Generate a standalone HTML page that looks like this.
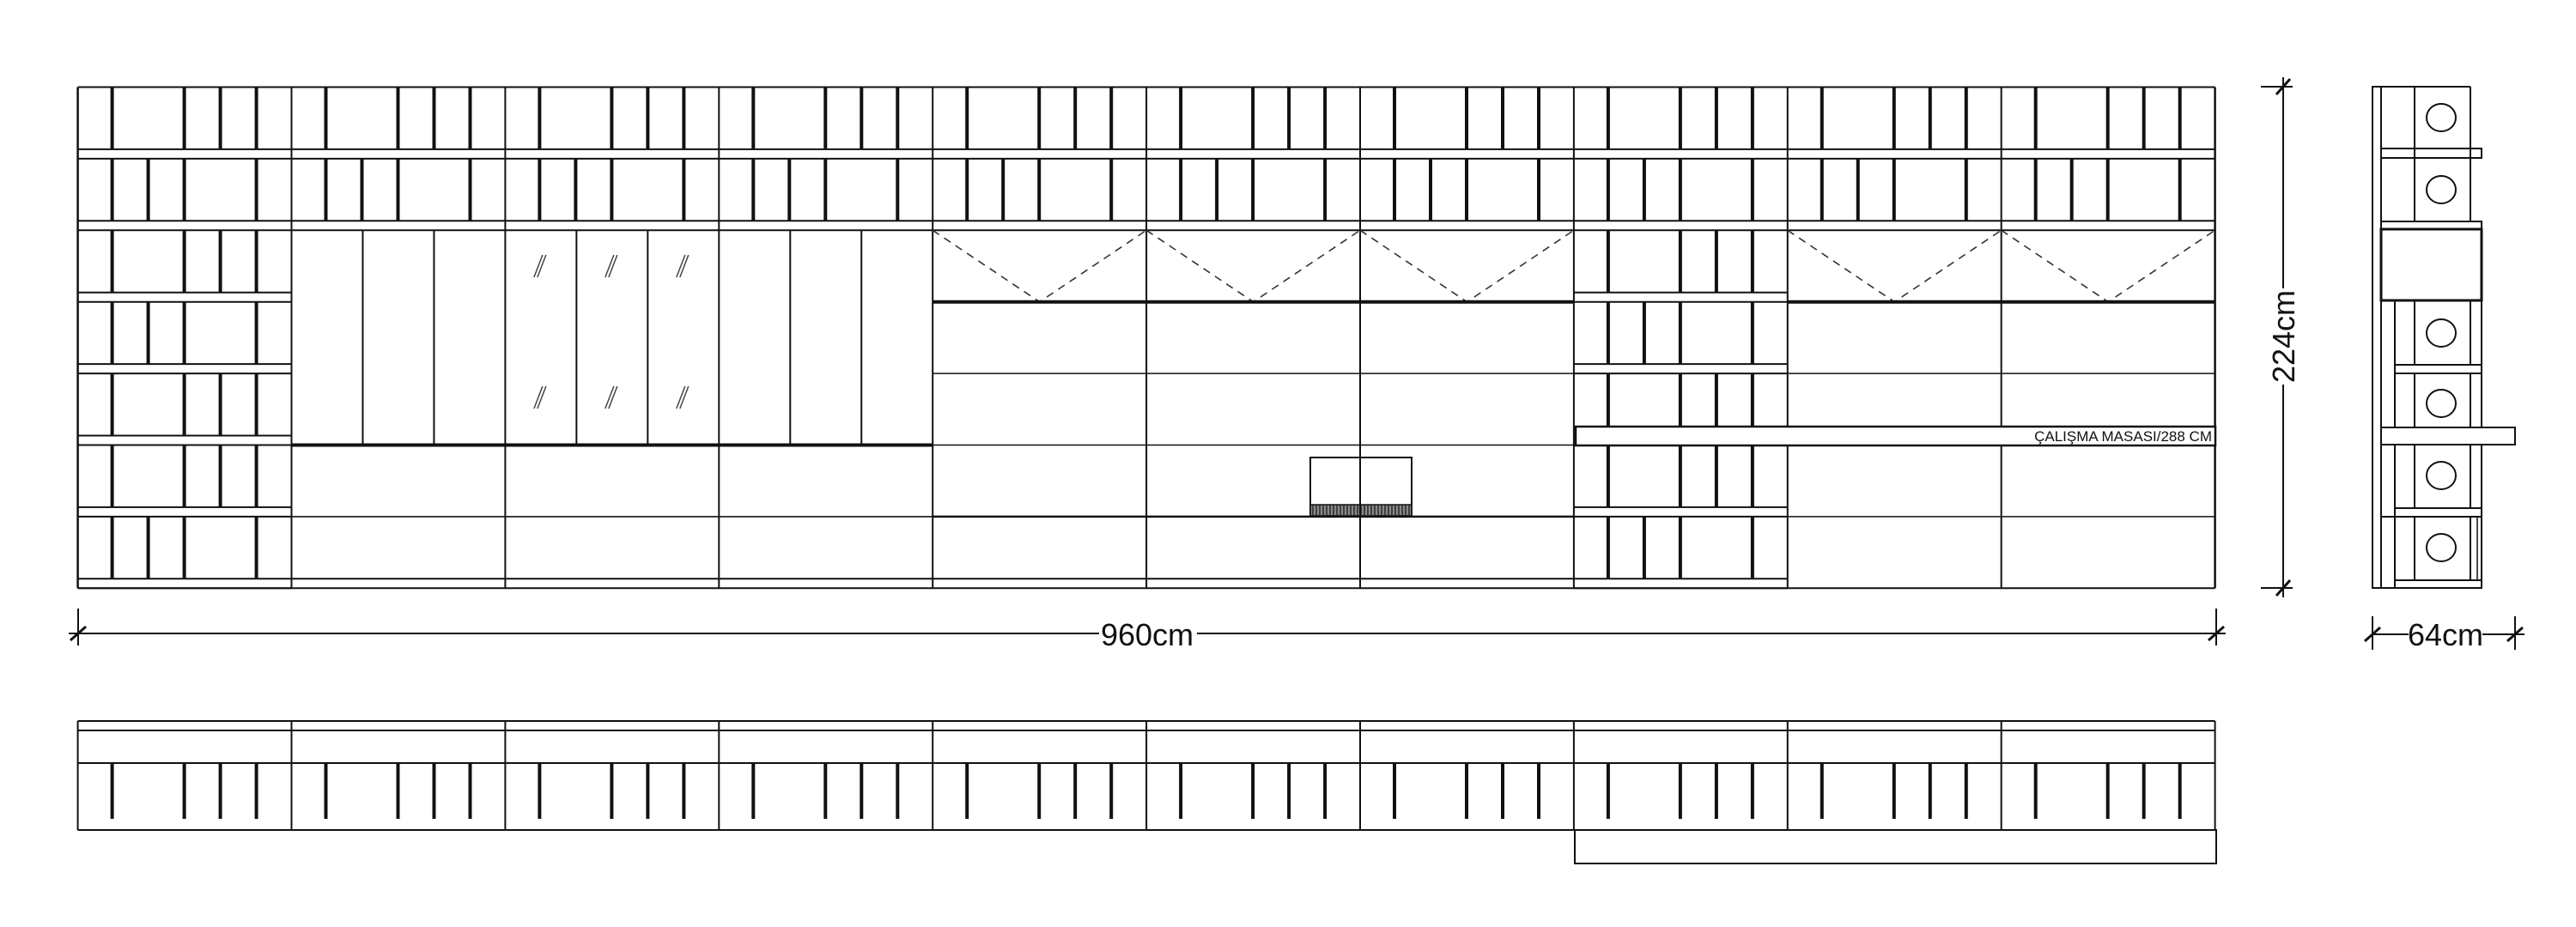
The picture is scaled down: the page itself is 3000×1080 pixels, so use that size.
<!DOCTYPE html>
<html><head><meta charset="utf-8"><style>
html,body{margin:0;padding:0;background:#fff;}
svg{display:block;}
text{font-family:"Liberation Sans",sans-serif;fill:#111;}
</style></head><body>
<svg id="s" width="3000" height="1080" viewBox="0 0 3000 1080" xmlns="http://www.w3.org/2000/svg">
<g id="g" stroke="#111" fill="none" stroke-width="2"></g>
<rect x="1280" y="722" width="114" height="36" fill="#fff"/>
<text x="1336" y="752" font-size="36" text-anchor="middle">960cm</text>
<rect x="2641" y="336" width="36" height="112" fill="#fff"/>
<text x="0" y="0" font-size="36" text-anchor="middle" transform="translate(2672,392) rotate(-90)">224cm</text>
<rect x="2805" y="722" width="86" height="36" fill="#fff"/>
<text x="2848" y="752" font-size="36" text-anchor="middle">64cm</text>
<text x="2576" y="514" font-size="17" text-anchor="end" font-family="Liberation Sans, sans-serif">ÇALIŞMA MASASI/288 CM</text>
</svg>
<script>
var g=document.getElementById('g'),NS='http://www.w3.org/2000/svg';
function el(t,a){var e=document.createElementNS(NS,t);for(var k in a)e.setAttribute(k,a[k]);g.appendChild(e);return e;}
function ln(x1,y1,x2,y2,w,extra){var a={x1:x1,y1:y1,x2:x2,y2:y2};if(w)a['stroke-width']=w;if(extra)for(var k in extra)a[k]=extra[k];return el('line',a);}
function rc(x,y,w,h,sw,fill){return el('rect',{x:x,y:y,width:w,height:h,'stroke-width':sw||2,fill:fill||'none'});}
var L=90.6,W=248.9,T=101.5,H=83.4,B=T+7*H;
var A=[40,124,166,208],Bp=[40,82,124,208];
function books(x0,r,p){var top=(r==0)?T:T+r*H;var bot=T+(r+1)*H;var yb=bot-11;
 p.forEach(function(o){ln(x0+o,top,x0+o,yb,4);});
 ln(x0,yb,x0+W,yb,2);ln(x0,bot,x0+W,bot,2);}
function vee(x0){el('polyline',{points:x0+','+(T+2*H)+' '+(x0+W/2)+','+(T+3*H)+' '+(x0+W)+','+(T+2*H),'stroke-dasharray':'9,7','stroke-width':1.6,stroke:'#333'});ln(x0,T+3*H,x0+W,T+3*H,4);}
var pat=[A,Bp,A,Bp,A,A,Bp];
ln(L,T,L+10*W,T,2);ln(L,B,L+10*W,B,2);
for(var m=0;m<=10;m++){ln(L+m*W,T,L+m*W,B,m%10==0?2.5:2);}
for(var m=0;m<10;m++){var x0=L+m*W;
 if(m==0||m==7){for(var r=0;r<7;r++)books(x0,r,pat[r]);}
 else{books(x0,0,A);books(x0,1,Bp);
  if(m<=3){ln(x0+W/3,T+2*H,x0+W/3,T+5*H,2);ln(x0+2*W/3,T+2*H,x0+2*W/3,T+5*H,2);ln(x0,T+5*H,x0+W,T+5*H,4);ln(x0,T+6*H,x0+W,T+6*H,1.6);ln(x0,B-11,x0+W,B-11,2);}
  else{vee(x0);ln(x0,T+4*H,x0+W,T+4*H,1.5);ln(x0,T+5*H,x0+W,T+5*H,1.5);ln(x0,T+6*H,x0+W,T+6*H,m<=6?2.5:1.5);if(m<=6)ln(x0,B-11,x0+W,B-11,2);}
 }}
for(var i=0;i<3;i++){var cx=L+2*W+W/6+i*W/3;[310,463].forEach(function(cy){ln(cx-8,cy+13,cx+2,cy-13,1.5,{stroke:'#444'});ln(cx-4,cy+13,cx+6,cy-13,1.5,{stroke:'#444'});});}
rc(1835,497,745,22,2.5,'#fff');
rc(1526,533,118,68,2,'#fff');rc(1526,588,118,13,1.5,'#888');
for(var x=1529;x<1644;x+=4)ln(x,588,x,601,1.2);
ln(L+6*W,533,L+6*W,601,2);
var P0=840,P1=851,P2=889,P3=967;
ln(L,P0,L+10*W,P0,2);ln(L,P1,L+10*W,P1,2);ln(L,P2,L+10*W,P2,2);ln(L,P3,L+10*W,P3,2);
for(var m=0;m<=10;m++)ln(L+m*W,P0,L+m*W,P3,2);
for(var m=0;m<10;m++)A.forEach(function(o){ln(L+m*W+o,P2,L+m*W+o,954,4);});
rc(1834,P3,747,39,2);
ln(80,738,2592,738,2);
[91,2581].forEach(function(x){ln(x,709,x,752,2);ln(x-9,746,x+9,730,3);});
ln(2659,90,2659,696,2);
[101,685].forEach(function(y){ln(2633,y,2670,y,2);ln(2651,y+9,2667,y-9,3);});
rc(2763,101,10,584,2);
ln(2773,101,2877,101,2);ln(2773,685,2890,685,2);
ln(2812,101,2812,258,2);ln(2877,101,2877,258,2);
rc(2773,173,117,11,2);rc(2773,258,117,9,2);rc(2773,267,117,83,3);
[2789,2812,2877,2890].forEach(function(x){ln(x,350,x,685,2);});
rc(2789,425,101,10,2,'#fff');rc(2789,592,101,10,2,'#fff');rc(2789,676,101,9,2,'#fff');
rc(2773,498,156,20,2,'#fff');
ln(2773,602,2789,602,2);ln(2885,602,2885,676,1.5);
[137,221,388,470,554,638].forEach(function(y){el('ellipse',{cx:2843,cy:y,rx:17,ry:16,'stroke-width':2});});
ln(2763,739,2940,739,2);
[2763,2929].forEach(function(x){ln(x,718,x,757,2);ln(x-9,747,x+9,731,3);});
</script>
</body></html>
